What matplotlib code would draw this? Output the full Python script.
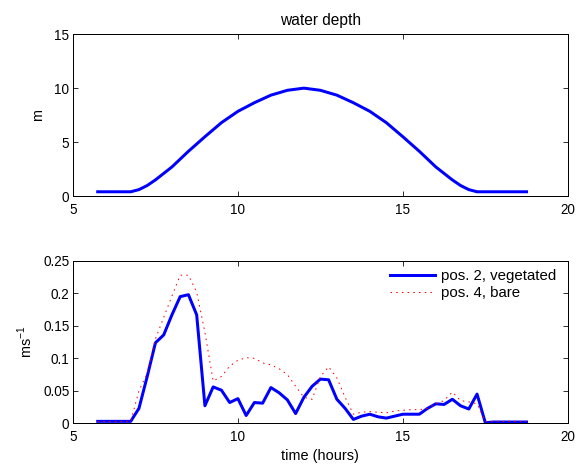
import matplotlib
matplotlib.use('Agg')
from matplotlib import pyplot as plt
from matplotlib.ticker import FormatStrFormatter

plt.rcParams['font.family'] = ['Liberation Sans', 'DejaVu Sans']
plt.rcParams['font.size'] = 14.5
plt.rcParams['mathtext.fontset'] = 'custom'
plt.rcParams['mathtext.rm'] = 'Liberation Sans'

# water depth (m)
depth_t = [5.75, 6.25, 6.75, 7.0, 7.25, 7.5, 8.0, 8.5, 9.0, 9.5, 10.0, 10.5, 11.0, 11.5,
           12.0, 12.5, 13.0, 13.5, 14.0, 14.5, 15.0, 15.5, 16.0, 16.5, 16.75, 17.0,
           17.25, 17.75, 18.25, 18.75]
depth = [0.4, 0.4, 0.4, 0.6, 0.98, 1.5, 2.7, 4.15, 5.5, 6.8, 7.85, 8.65, 9.35, 9.8,
         10.0, 9.8, 9.35, 8.65, 7.85, 6.8, 5.5, 4.15, 2.7, 1.5, 0.98, 0.6,
         0.4, 0.4, 0.4, 0.4]

# velocity (m/s) sample times
t = [5.75, 6.0, 6.25, 6.5, 6.75, 7.0, 7.25, 7.5, 7.75, 8.0, 8.25, 8.5, 8.75,
     9.0, 9.25, 9.5, 9.75, 10.0, 10.25, 10.5, 10.75, 11.0, 11.25, 11.5, 11.75,
     12.0, 12.25, 12.5, 12.75, 13.0, 13.25, 13.5, 13.75, 14.0, 14.25, 14.5, 14.75,
     15.0, 15.25, 15.5, 15.75, 16.0, 16.25, 16.5, 16.75, 17.0, 17.25, 17.5, 17.75,
     18.0, 18.25, 18.5, 18.75]
veg = [0.003, 0.003, 0.003, 0.003, 0.003, 0.023, 0.072, 0.124, 0.136, 0.167, 0.195, 0.198, 0.167,
       0.027, 0.056, 0.051, 0.032, 0.038, 0.012, 0.032, 0.031, 0.055, 0.047, 0.036, 0.015,
       0.040, 0.057, 0.068, 0.067, 0.037, 0.023, 0.006, 0.011, 0.014, 0.010, 0.008, 0.011,
       0.014, 0.014, 0.014, 0.023, 0.030, 0.029, 0.037, 0.027, 0.022, 0.045, 0.001, 0.002,
       0.002, 0.002, 0.002, 0.002]
bare = [0.003, 0.003, 0.003, 0.003, 0.003, 0.050, 0.077, 0.130, 0.163, 0.196, 0.228, 0.228, 0.202,
        0.140, 0.065, 0.072, 0.088, 0.097, 0.101, 0.100, 0.093, 0.090, 0.084, 0.075, 0.057,
        0.040, 0.037, 0.072, 0.087, 0.070, 0.040, 0.014, 0.017, 0.018, 0.017, 0.016, 0.019,
        0.020, 0.021, 0.021, 0.023, 0.030, 0.035, 0.048, 0.035, 0.033, 0.030, 0.003, 0.003,
        0.003, 0.003, 0.003, 0.003]

fig = plt.figure(figsize=(8, 6.5), dpi=72)

ax1 = fig.add_axes([0.1267, 0.581, 0.859, 0.346])
ax1.plot(depth_t, depth, color='blue', lw=3)
ax1.set_xlim(5, 20)
ax1.set_ylim(0, 15)
ax1.set_xticks([5, 10, 15, 20])
ax1.set_yticks([0, 5, 10, 15])
ax1.set_ylabel('m', labelpad=9)
ax1.set_title('water depth', fontsize=15.5, pad=9)

ax2 = fig.add_axes([0.1267, 0.0955, 0.859, 0.347])
ax2.plot(t, veg, color='blue', lw=3, label='pos. 2, vegetated')
ax2.plot(t, bare, color='red', lw=1, ls=(0, (1.5, 4.2)), label='pos. 4, bare')
ax2.set_xlim(5, 20)
ax2.set_ylim(0, 0.25)
ax2.set_xticks([5, 10, 15, 20])
ax2.set_yticks([0, 0.05, 0.1, 0.15, 0.2, 0.25])
ax2.yaxis.set_major_formatter(FormatStrFormatter('%g'))
ax2.set_ylabel('ms$^{-1}$', labelpad=8)
ax2.set_xlabel('time (hours)', labelpad=5)
ax2.legend(loc='upper right', bbox_to_anchor=(1 - 12 / 495, 1 - 8 / 162),
           frameon=False, handlelength=3, handletextpad=0.4, labelspacing=0.2,
           borderaxespad=0, borderpad=0, fontsize=15)

for ax in (ax1, ax2):
    ax.tick_params(direction='in', top=True, right=True, length=5, labelsize=13.5)
    ax.tick_params(axis='x', pad=7)
    for s in ax.spines.values():
        s.set_linewidth(1)

fig.savefig('out.png', dpi=72)
